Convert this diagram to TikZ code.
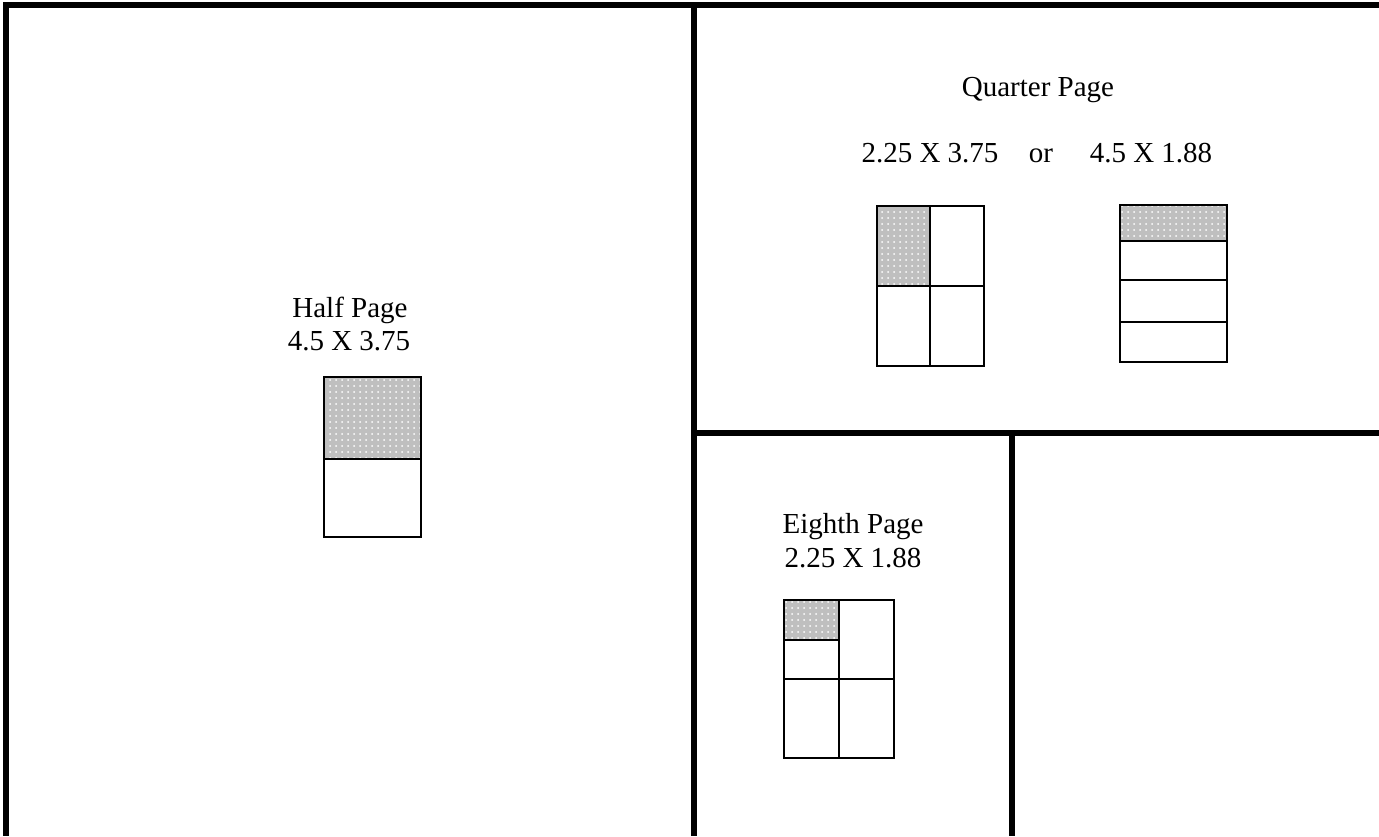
\documentclass[tikz,border=0pt]{standalone}
\usepackage{fontspec}
\setmainfont{Liberation Serif}
\usetikzlibrary{patterns.meta}

\begin{document}
\begin{tikzpicture}[
    x=1pt, y=-1pt,
    divider/.style={line width=6pt, black},
    cell/.style={draw, line width=2pt},
    shaded/.style={preaction={fill=black!25}, pattern={Dots[distance=6pt, radius=1pt]}, pattern color=white},
    label/.style={anchor=base, inner sep=0pt, font=\fontsize{29}{34}\selectfont}
]
\useasboundingbox (0,0) rectangle (1379,836);

% === PAGE DIVIDERS ===
\draw[divider] (3,5) -- (1379,5);
\draw[divider] (6,2) -- (6,836);
\draw[divider] (694,2) -- (694,836);
\draw[divider] (694,433) -- (1379,433);
\draw[divider] (1012,433) -- (1012,836);

% === HALF PAGE ===
\node[label] (half_title) at (350,317) {Half Page};
\node[label] (half_size) at (349,350) {4.5 X 3.75};
\fill[shaded] (324,377) rectangle (421,459);
\draw[cell] (324,377) rectangle (421,537);
\draw[cell] (324,459) -- (421,459);

% === QUARTER PAGE ===
\node[label] (quarter_title) at (1038,96) {Quarter Page};
\node[label] (quarter_tall) at (930,162) {2.25 X 3.75};
\node[label] (quarter_or) at (1041,162) {or};
\node[label] (quarter_wide) at (1151,162) {4.5 X 1.88};

% tall option
\fill[shaded] (877,206) rectangle (930,286);
\draw[cell] (877,206) rectangle (984,366);
\draw[cell] (930,206) -- (930,366);
\draw[cell] (877,286) -- (984,286);

% wide option
\fill[shaded] (1120,205) rectangle (1227,241);
\draw[cell] (1120,205) rectangle (1227,362);
\foreach \y in {241,280,322}
    \draw[cell] (1120,\y) -- (1227,\y);

% === EIGHTH PAGE ===
\node[label] (eighth_title) at (853,533) {Eighth Page};
\node[label] (eighth_size) at (853,567) {2.25 X 1.88};
\fill[shaded] (784,600) rectangle (839,640);
\draw[cell] (784,600) rectangle (894,758);
\draw[cell] (839,600) -- (839,758);
\draw[cell] (784,679) -- (894,679);
\draw[cell] (784,640) -- (839,640);

\end{tikzpicture}
\end{document}
